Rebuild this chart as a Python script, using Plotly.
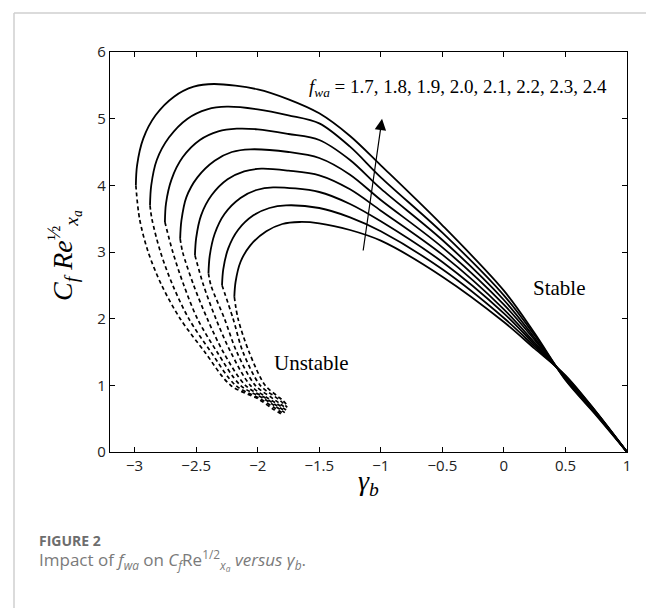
import plotly.graph_objects as go

f_values = ["1.7", "1.8", "1.9", "2.0", "2.1", "2.2", "2.3", "2.4"]

# Upper (stable, solid) branches, listed from the turning point towards gamma_b = 1
solid_x = {
    "1.7": [-2.19, -2.18, -2.14, -2.06, -1.93, -1.80, -1.66, -1.5, -1.25, -1.0, -0.5, 0.0, 0.25, 0.5, 0.75, 1.0],
    "1.8": [-2.29, -2.28, -2.24, -2.16, -2.035, -1.905, -1.77, -1.5, -1.25, -1.0, -0.5, 0.0, 0.25, 0.5, 0.75, 1.0],
    "1.9": [-2.40, -2.39, -2.35, -2.27, -2.14, -2.01, -1.875, -1.5, -1.25, -1.0, -0.5, 0.0, 0.25, 0.5, 0.75, 1.0],
    "2.0": [-2.51, -2.50, -2.46, -2.375, -2.245, -2.11, -1.97, -1.75, -1.5, -1.25, -1.0, -0.5, 0.0, 0.25, 0.5, 0.75, 1.0],
    "2.1": [-2.63, -2.62, -2.58, -2.49, -2.35, -2.21, -2.06, -1.75, -1.5, -1.25, -1.0, -0.5, 0.0, 0.25, 0.5, 0.75, 1.0],
    "2.2": [-2.754, -2.745, -2.70, -2.61, -2.47, -2.32, -2.17, -2.0, -1.75, -1.5, -1.25, -1.0, -0.5, 0.0, 0.25, 0.5, 0.75, 1.0],
    "2.3": [-2.875, -2.865, -2.82, -2.72, -2.57, -2.41, -2.25, -2.0, -1.75, -1.5, -1.25, -1.0, -0.5, 0.0, 0.25, 0.5, 0.75, 1.0],
    "2.4": [-2.99, -2.98, -2.93, -2.83, -2.68, -2.52, -2.355, -2.0, -1.75, -1.5, -1.25, -1.0, -0.5, 0.0, 0.25, 0.5, 0.75, 1.0],
}
solid_y = {
    "1.7": [2.33, 2.55, 2.85, 3.10, 3.31, 3.42, 3.45, 3.43, 3.33, 3.17, 2.63, 1.95, 1.55, 1.15, 0.60, 0.0],
    "1.8": [2.50, 2.74, 3.05, 3.33, 3.55, 3.66, 3.70, 3.66, 3.52, 3.31, 2.74, 2.01, 1.58, 1.14, 0.60, 0.0],
    "1.9": [2.68, 2.94, 3.27, 3.57, 3.81, 3.93, 3.97, 3.90, 3.72, 3.46, 2.85, 2.08, 1.61, 1.13, 0.59, 0.0],
    "2.0": [2.95, 3.21, 3.55, 3.85, 4.09, 4.21, 4.25, 4.22, 4.15, 3.94, 3.62, 2.96, 2.14, 1.64, 1.12, 0.58, 0.0],
    "2.1": [3.20, 3.47, 3.82, 4.12, 4.37, 4.50, 4.54, 4.50, 4.41, 4.16, 3.78, 3.07, 2.21, 1.68, 1.11, 0.58, 0.0],
    "2.2": [3.45, 3.73, 4.09, 4.42, 4.68, 4.81, 4.85, 4.84, 4.77, 4.68, 4.38, 3.95, 3.18, 2.28, 1.71, 1.10, 0.57, 0.0],
    "2.3": [3.70, 4.00, 4.38, 4.72, 5.00, 5.14, 5.18, 5.14, 5.05, 4.93, 4.58, 4.12, 3.29, 2.35, 1.75, 1.09, 0.56, 0.0],
    "2.4": [4.00, 4.30, 4.70, 5.05, 5.33, 5.48, 5.52, 5.44, 5.29, 5.08, 4.74, 4.30, 3.40, 2.42, 1.78, 1.08, 0.55, 0.0],
}

# Lower (unstable, dashed) branches, from the turning point downwards
dash_x = {
    "1.7": [-2.19, -2.16, -2.07, -1.94, -1.84, -1.80, -1.755],
    "1.8": [-2.29, -2.20, -2.12, -1.98, -1.86, -1.81, -1.76],
    "1.9": [-2.40, -2.38, -2.27, -2.17, -2.02, -1.89, -1.83, -1.765],
    "2.0": [-2.51, -2.44, -2.34, -2.22, -2.06, -1.91, -1.84, -1.77],
    "2.1": [-2.63, -2.61, -2.52, -2.41, -2.28, -2.10, -1.93, -1.85, -1.775],
    "2.2": [-2.754, -2.69, -2.60, -2.49, -2.33, -2.14, -1.95, -1.86, -1.78],
    "2.3": [-2.875, -2.86, -2.79, -2.69, -2.56, -2.38, -2.18, -1.98, -1.87, -1.785],
    "2.4": [-2.99, -2.96, -2.89, -2.78, -2.63, -2.43, -2.22, -2.00, -1.88, -1.79],
}
dash_y = {
    "1.7": [2.33, 2.0, 1.5, 1.0, 0.84, 0.78, 0.69],
    "1.8": [2.50, 2.0, 1.5, 1.0, 0.83, 0.76, 0.67],
    "1.9": [2.68, 2.5, 2.0, 1.5, 1.0, 0.82, 0.74, 0.65],
    "2.0": [2.95, 2.5, 2.0, 1.5, 1.0, 0.80, 0.72, 0.63],
    "2.1": [3.20, 3.0, 2.5, 2.0, 1.5, 1.0, 0.80, 0.70, 0.61],
    "2.2": [3.45, 3.0, 2.5, 2.0, 1.5, 1.0, 0.80, 0.69, 0.59],
    "2.3": [3.70, 3.5, 3.0, 2.5, 2.0, 1.5, 1.0, 0.80, 0.67, 0.57],
    "2.4": [4.00, 3.5, 3.0, 2.5, 2.0, 1.5, 1.0, 0.80, 0.65, 0.55],
}

x_ticks = [-3, -2.5, -2, -1.5, -1, -0.5, 0, 0.5, 1]
x_tick_text = ["\u22123", "\u22122.5", "\u22122", "\u22121.5", "\u22121", "\u22120.5", "0", "0.5", "1"]
y_ticks = [0, 1, 2, 3, 4, 5, 6]

label_text = "<i>f<sub>wa</sub></i> = " + ", ".join(f_values)
label_pos = (-0.37, 5.46)
arrow_tail = (-1.145, 3.0)
arrow_tip = (-0.99, 5.0)
stable_pos = (0.45, 2.46)
unstable_pos = (-1.56, 1.33)

# page is shown with an 8px body margin, so the figure is 8px smaller and its
# page coordinates start at (8, 8)
OFF = 8
W, H = 654 - OFF, 608 - OFF
PLOT_L, PLOT_R, PLOT_T, PLOT_B = 110, 627, 52, 452   # page pixels
L, R, T, B = PLOT_L - OFF, 654 - PLOT_R, PLOT_T - OFF, 608 - PLOT_B
PW, PH = PLOT_R - PLOT_L, PLOT_B - PLOT_T


def px(xpix):
    return (xpix - PLOT_L) / PW


def py(ypix):
    return (PLOT_B - ypix) / PH


fig = go.Figure()
for f in f_values:
    fig.add_trace(go.Scatter(x=solid_x[f], y=solid_y[f], mode="lines",
                             line=dict(color="black", width=1.8, shape="spline", smoothing=0.9),
                             showlegend=False, hoverinfo="skip"))
    fig.add_trace(go.Scatter(x=dash_x[f], y=dash_y[f], mode="lines",
                             line=dict(color="black", width=1.7, dash="4px,3px", shape="spline", smoothing=0.9),
                             showlegend=False, hoverinfo="skip"))

serif = "Liberation Serif, Times New Roman, serif"
sans = "Open Sans, Noto Sans, sans-serif"

annotations = [
    dict(x=label_pos[0], y=label_pos[1], xref="x", yref="y", text=label_text, showarrow=False,
         font=dict(family=serif, size=19, color="black")),
    dict(x=arrow_tip[0], y=arrow_tip[1], ax=arrow_tail[0], ay=arrow_tail[1], xref="x", yref="y",
         axref="x", ayref="y", text="", showarrow=True, arrowhead=2, arrowsize=1.9, arrowwidth=1.2,
         arrowcolor="black"),
    dict(x=stable_pos[0], y=stable_pos[1], xref="x", yref="y", text="Stable", showarrow=False,
         font=dict(family=serif, size=21, color="black")),
    dict(x=unstable_pos[0], y=unstable_pos[1], xref="x", yref="y", text="Unstable", showarrow=False,
         font=dict(family=serif, size=21, color="black")),
    dict(x=px(41), y=py(256), xref="paper", yref="paper", textangle=-90, showarrow=False,
         text="<i>C<sub>f</sub> Re</i><sup>\u00bd</sup><i><sub>x<sub>a</sub></sub></i>",
         font=dict(family=serif, size=28, color="black")),
    dict(x=0.5, y=py(502), xref="paper", yref="paper", showarrow=False,
         text="<i>\u03b3<sub>b</sub></i>", font=dict(family=serif, size=28, color="black")),
    dict(x=px(37), y=py(552), xref="paper", yref="paper", xanchor="left", showarrow=False,
         text="<b>FIGURE 2</b>", font=dict(family=sans, size=14, color="#6d6d6d")),
    dict(x=px(37), y=py(576), xref="paper", yref="paper", xanchor="left", showarrow=False,
         text="Impact of <i>f<sub>wa</sub></i> on <i>C<sub>f</sub></i>Re<sup>1/2</sup><sub><i>x<sub>a</sub></i></sub> <i>versus \u03b3<sub>b</sub></i>.",
         font=dict(family=sans, size=17, color="#7a7a7a")),
]

shapes = [
    dict(type="line", xref="paper", yref="paper", x0=px(14), x1=px(14), y0=py(13), y1=py(640),
         line=dict(color="#cfcfcf", width=1.5)),
    dict(type="line", xref="paper", yref="paper", x0=px(14), x1=px(680), y0=py(13), y1=py(13),
         line=dict(color="#cfcfcf", width=1.5)),
]

fig.update_layout(
    width=W, height=H,
    margin=dict(l=L, r=R, t=T, b=B, pad=0),
    paper_bgcolor="white", plot_bgcolor="white",
    showlegend=False,
    annotations=annotations,
    shapes=shapes,
    xaxis=dict(range=[-3.2, 1.0], tickmode="array", tickvals=x_ticks, ticktext=x_tick_text,
               showgrid=False, zeroline=False, showline=True, linecolor="black", linewidth=1.3,
               mirror="ticks", ticks="inside", ticklen=5, tickwidth=1, tickcolor="black",
               tickfont=dict(family=sans, size=15, color="#222")),
    yaxis=dict(range=[0, 6], tickmode="array", tickvals=y_ticks,
               showgrid=False, zeroline=False, showline=True, linecolor="black", linewidth=1.3,
               mirror="ticks", ticks="inside", ticklen=5, tickwidth=1, tickcolor="black",
               tickfont=dict(family=sans, size=15, color="#222")),
)

fig.write_html("out.html")
